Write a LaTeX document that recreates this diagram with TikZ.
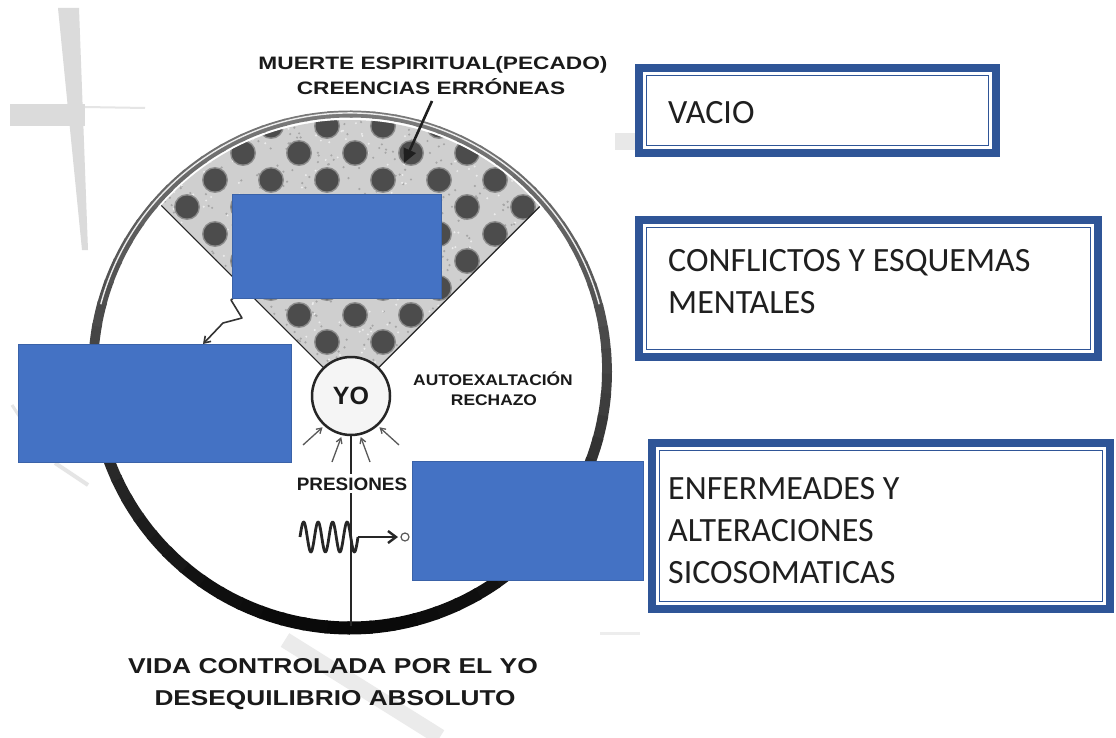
\documentclass[tikz,border=0pt]{standalone}
\usepackage{fontspec}
\setmainfont{Liberation Sans}
\newfontfamily\carlfont{Carlito}
\usetikzlibrary{arrows.meta}
\definecolor{frameblue}{HTML}{2F5597}
\definecolor{coverblue}{HTML}{4472C4}
\definecolor{coveredge}{HTML}{3A62A8}
\definecolor{ink}{HTML}{1A1A1A}
\newcommand\wideby[2]{\scalebox{#1}[1]{#2}}
\begin{document}
\begin{tikzpicture}[x=1pt,y=-1pt,
  frame/.style={draw=frameblue, line width=8pt, fill=white, inner sep=0pt, outer sep=0pt, rectangle},
  innerline/.style={draw=frameblue, line width=1.8pt},
  boxtext/.style={font=\carlfont\fontsize{34}{42}\selectfont, inner sep=0pt, align=left, text=black!88, anchor=base west},
  cover/.style={fill=coverblue, draw=coveredge, line width=1pt},
  lbl/.style={font=\bfseries\fontsize{18}{22}\selectfont, text=ink, inner sep=0pt, anchor=base},
  big/.style={font=\bfseries\fontsize{21.5}{26}\selectfont, text=ink, inner sep=0pt, anchor=base},
  small/.style={font=\bfseries\fontsize{15.4}{19}\selectfont, text=ink, inner sep=0pt, anchor=base},
  press/.style={line width=1.3pt, black!65, -{Straight Barb[length=5pt,width=6pt]}, shorten >=2pt},
  bgmark/.style={fill=gray!28}
]
\useasboundingbox (0,0) rectangle (1116,738);
\fill[white] (0,0) rectangle (1116,738);

% background cross fragments
\fill[bgmark] (58,8) -- (79,8) -- (88,250) -- (82,250) -- cycle;
\fill[bgmark] (10,104) rectangle (85,126);
\draw[gray!20, line width=2pt] (85,107) -- (145,108);
\fill[gray!18] (615,133) rectangle (635,150);
\draw[gray!20, line width=3pt] (12,405) -- (25,425);
\draw[gray!20, line width=4pt] (55,463) -- (88,485);
\draw[gray!16, line width=16pt] (285,640) -- (440,737);
\draw[gray!14, line width=3pt] (600,633) -- (640,633);

% speckled wedge
\begin{scope}
  \clip (350,371) circle[radius=251];
  \clip (351,396) -- (68,113) -- (351,-170) -- (634,113) -- cycle;
  \fill[gray!38] (100,60) rectangle (620,420);
  \pgfmathsetseed{7}
  \foreach \i in {1,...,700}{
    \pgfmathsetmacro\rx{150+400*rnd}
    \pgfmathsetmacro\ry{110+300*rnd}
    \fill[gray!70] (\rx,\ry) circle[radius=1.2];
  }
  \foreach \i in {1,...,400}{
    \pgfmathsetmacro\rx{150+400*rnd}
    \pgfmathsetmacro\ry{110+300*rnd}
    \fill[white!85!gray] (\rx,\ry) circle[radius=1.1];
  }
  \foreach \r in {0,...,10}{
    \pgfmathsetmacro\yy{126+27*\r}
    \pgfmathsetmacro\xo{ifthenelse(mod(\r,2)==0,215,243)}
    \foreach \j in {-1,...,7}{
      \fill[black!45] ({\xo+56*\j},\yy) circle[radius=13];
      \fill[black!70] ({\xo+56*\j},\yy) circle[radius=11.5];
    }
  }
  \draw[line width=2.2pt, black!85] (351,396) -- (68,113);
  \draw[line width=2.2pt, black!85] (351,396) -- (634,113);
\end{scope}

% outer ring, dark at the bottom and grey at the top
\begin{scope}[shift={(350,371)}]
  \foreach \a in {0,5,...,355}{
    \pgfmathsetmacro\p{int(75+22*sin(\a))}
    \pgfmathsetmacro\w{10+3*sin(\a)}
    \draw[line width=\w pt, black!\p] (\a:257) arc[start angle=\a, end angle=\a+5.6, radius=257];
  }
  \draw[white!85!gray, line width=1.4pt] (195:258) arc[start angle=195, end angle=345, radius=258];
\end{scope}

% YO
\node[circle, draw=black!85, line width=2.5pt, fill=gray!8, minimum size=78pt, inner sep=0pt,
      font=\bfseries\fontsize{25}{28}\selectfont, text=ink] (yo) at (351,396) {YO};

% pressure arrows
\coordinate (p1) at (303,445);
\coordinate (p2) at (332,462);
\coordinate (p3) at (370,462);
\coordinate (p4) at (399,445);
\draw[press] (p1) -- (yo.228);
\draw[press] (p2) -- (yo.257);
\draw[press] (p3) -- (yo.283);
\draw[press] (p4) -- (yo.312);

% vertical axis and label
\coordinate (axisend) at (351,626);
\draw[line width=2.4pt, black!85] (yo.south) -- (axisend);
\node[lbl, fill=white, inner xsep=2pt, inner ysep=3pt] (pres) at (352,490) {\wideby{1.05}{PRESIONES}};

% wave and arrow
\draw[line width=2.8pt, black!85, line join=round]
  plot[domain=300:358, samples=120, smooth] (\x, {537-15*sin((\x-300)/14.5*360)});
\coordinate (w0) at (358,537);
\coordinate (w1) at (398,537);
\draw[line width=2.4pt, black!85, -{Straight Barb[length=8pt,width=12pt]}] (w0) -- (w1);
\node[circle, draw=gray!70!black, line width=1.2pt, minimum size=8pt, inner sep=0pt] (dot) at (405,537) {};

% squiggle arrow on the left
\draw[line width=1.6pt, black!80, line join=round, -{Straight Barb[length=6pt,width=8pt]}]
  (250,285) -- (231,300) -- (242,318) -- (223,323) -- (203,344);

% labels
\node[lbl] (m1) at (433,70) {\wideby{1.26}{MUERTE ESPIRITUAL(PECADO)}};
\node[lbl] (m2) at (431,95) {\wideby{1.26}{CREENCIAS ERRÓNEAS}};
\coordinate (ma) at (432,101);
\coordinate (mb) at (404,163);
\draw[line width=2.6pt, black!88, -{Triangle[length=14pt,width=13pt]}] (ma) -- (mb);

\node[small] (a1) at (493,385) {\wideby{1.13}{AUTOEXALTACIÓN}};
\node[small] (a2) at (494,405) {\wideby{1.13}{RECHAZO}};

\node[big] (b1) at (333,673) {\wideby{1.23}{VIDA CONTROLADA POR EL YO}};
\node[big] (b2) at (335,705) {\wideby{1.22}{DESEQUILIBRIO ABSOLUTO}};

% blue covers
\draw[cover] (232,195) rectangle (441,298);
\draw[cover] (18,344) rectangle (291,462);
\draw[cover] (412,461) rectangle (643,580);

% framed boxes (node boundary = centre of the thick band)
\node[frame, minimum width=357pt, minimum height=85pt] (fv) at (817.5,110.5) {};
\draw[innerline] ([shift={(7.5pt,-7.5pt)}]fv.north west) rectangle ([shift={(-7.5pt,7.5pt)}]fv.south east);
\node[frame, minimum width=459pt, minimum height=137pt] (fc) at (868.5,288.5) {};
\draw[innerline] ([shift={(7.5pt,-7.5pt)}]fc.north west) rectangle ([shift={(-7.5pt,7.5pt)}]fc.south east);
\node[frame, minimum width=458pt, minimum height=166pt] (fe) at (881,526) {};
\draw[innerline] ([shift={(7.5pt,-7.5pt)}]fe.north west) rectangle ([shift={(-7.5pt,7.5pt)}]fe.south east);

\node[boxtext] (tv) at (668,124) {VACIO};
\node[boxtext] (tc) at (668,313) {CONFLICTOS Y ESQUEMAS\\MENTALES};
\node[boxtext] (te) at (668,583) {ENFERMEADES Y\\ALTERACIONES\\SICOSOMATICAS};
\end{tikzpicture}
\end{document}
